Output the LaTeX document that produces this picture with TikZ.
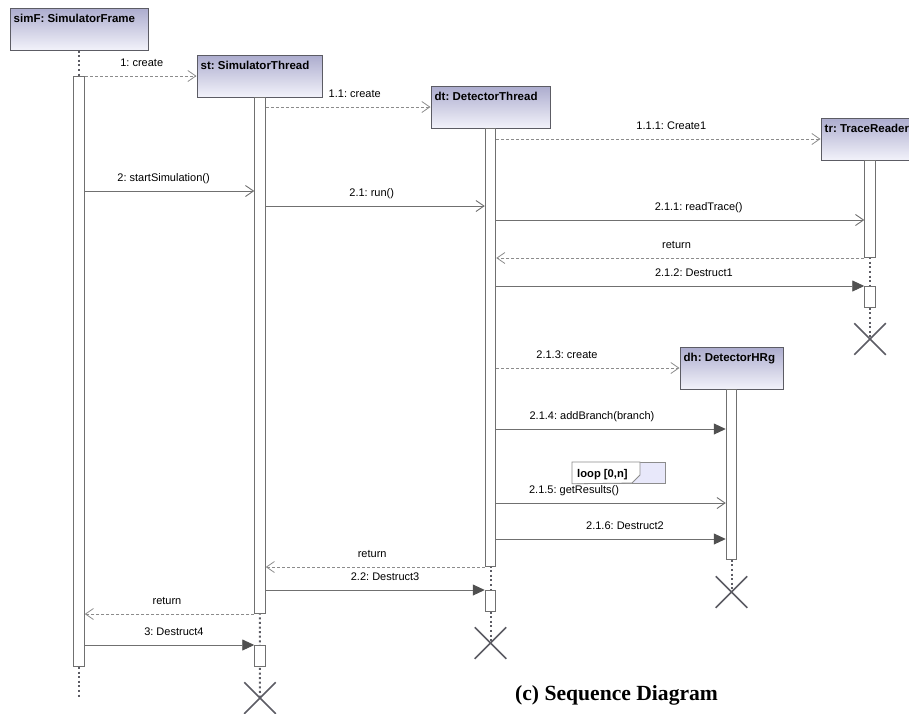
\documentclass[tikz,border=0pt]{standalone}
\usepackage{fontspec}
\setmainfont{Liberation Sans}
\newfontfamily\figcapfont{Liberation Serif}
\usetikzlibrary{arrows.meta,shapes.misc}
\frenchspacing

\definecolor{objtop}{RGB}{172,172,206}
\definecolor{objbot}{RGB}{242,242,250}
\definecolor{edge}{RGB}{92,92,100}
\definecolor{msgline}{RGB}{112,112,112}
\definecolor{retline}{RGB}{140,140,140}
\definecolor{headfill}{RGB}{80,80,80}
\definecolor{loopfill}{RGB}{232,232,250}

\tikzset{
  obj/.style={draw=edge, line width=1pt, top color=objtop, bottom color=objbot,
    minimum height=42pt, inner sep=0pt},
  objname/.style={font=\fontsize{11.5}{13}\selectfont\bfseries, anchor=base west, inner sep=0pt},
  act/.style={draw=msgline, fill=white, line width=1pt, minimum width=10.5pt,
    inner sep=0pt, anchor=north},
  life/.style={draw=edge, line width=2pt, dash pattern=on 2pt off 2.6pt},
  asyncmsg/.style={draw=msgline, line width=0.9pt, -{Straight Barb[length=8pt,width=11pt]}},
  syncmsg/.style={draw=msgline, line width=0.9pt, -{Triangle[length=12pt,width=11pt,color=headfill]}},
  createmsg/.style={draw=retline, line width=0.8pt, dash pattern=on 3pt off 2pt,
    -{Straight Barb[length=8pt,width=11pt]}},
  replymsg/.style={createmsg},
  lbl/.style={font=\fontsize{11}{13}\selectfont, anchor=base, yshift=9.5pt, inner sep=0pt},
  xmark/.style={cross out, draw=edge, line width=1.5pt, minimum size=30pt, inner sep=0pt},
}

\begin{document}
\begin{tikzpicture}[x=1pt,y=-1pt]
\useasboundingbox (0,0) rectangle (909,713);
\clip (0,0) rectangle (909,713);

% objects
\node[obj, minimum width=138pt] (simF) at (79,29) {};
\node[obj, minimum width=125pt] (st) at (259.5,76) {};
\node[obj, minimum width=119pt] (dt) at (490.5,107) {};
\node[obj, minimum width=98pt] (tr) at (870,139) {};
\node[obj, minimum width=103pt] (dh) at (731.5,368) {};

\node[objname] (simFname) at ([xshift=4pt,yshift=-15pt]simF.north west) {simF: SimulatorFrame};
\node[objname] (stname) at ([xshift=4pt,yshift=-15pt]st.north west) {st: SimulatorThread};
\node[objname] (dtname) at ([xshift=4pt,yshift=-15pt]dt.north west) {dt: DetectorThread};
\node[objname] (trname) at ([xshift=4pt,yshift=-15pt]tr.north west) {tr: TraceReader};
\node[objname] (dhname) at ([xshift=4pt,yshift=-15pt]dh.north west) {dh: DetectorHRg};

% destruction marks
\node[xmark] (xS) at (260,698) {};
\node[xmark] (xD) at (490.5,643) {};
\node[xmark] (xT) at (870,339) {};
\node[xmark] (xH) at (731.5,592) {};

% lifelines
\draw[life] (simF.south) -- (79,697);
\draw[life] (st.south) -- (xS.center);
\draw[life] (dt.south) -- (xD.center);
\draw[life] (tr.south) -- (xT.center);
\draw[life] (dh.south) -- (xH.center);

% activations
\node[act, minimum height=590pt] (aF) at (79,76) {};
\node[act, minimum height=516pt] (aS) at (260,97) {};
\node[act, minimum height=21pt] (aS2) at (260,645) {};
\node[act, minimum height=438pt] (aD) at (490.5,128) {};
\node[act, minimum height=21pt] (aD2) at (490.5,590) {};
\node[act, minimum height=97pt] (aT) at (870,160) {};
\node[act, minimum height=21pt] (aT2) at (870,286) {};
\node[act, minimum height=170pt] (aH) at (731.5,389) {};

% loop fragment
\node[draw=retline, fill=loopfill, line width=0.8pt, minimum width=93pt, minimum height=21pt,
  inner sep=0pt, anchor=north west] (loop) at (572,462) {};
\draw[draw=retline, fill=white, line width=0.8pt] (loop.north west) -- ++(68,0) -- ++(0,13)
  -- ++(-8,8) -- (loop.south west) -- cycle;
\node[objname, font=\fontsize{11.2}{13}\selectfont\bfseries] (loopname)
  at ([xshift=5pt,yshift=6.5pt]loop.south west) {loop [0,n]};

% messages
\draw[createmsg] (aF.north east) -- (st.west) node[lbl, pos=.51] (m1) {1: create};
\draw[createmsg] (aS.east |- dt.west) -- (dt.west) node[lbl, pos=.54] (m11) {1.1: create};
\draw[createmsg] (aD.east |- tr.west) -- (tr.west) node[lbl, pos=.54] (m111) {1.1.1: Create1};
\draw[asyncmsg] (aF.east |- 0,191) -- (aS.west |- 0,191) node[lbl, pos=.465] (m2) {2: startSimulation()};
\draw[asyncmsg] (aS.east |- 0,206) -- (aD.west |- 0,206) node[lbl, pos=.484] (m21) {2.1: run()};
\draw[asyncmsg] (aD.east |- 0,220) -- (aT.west |- 0,220) node[lbl, pos=.55] (m211) {2.1.1: readTrace()};
\draw[replymsg] (aT.south west) -- (aD.east |- aT.south) node[lbl, pos=.51] (r1) {return};
\draw[syncmsg] (aD.east |- aT2.north) -- (aT2.north west) node[lbl, pos=.537] (m212) {2.1.2: Destruct1};
\draw[createmsg] (aD.east |- dh.west) -- (dh.west) node[lbl, pos=.386] (m213) {2.1.3: create};
\draw[syncmsg] (aD.east |- 0,429) -- (aH.west |- 0,429) node[lbl, pos=.417] (m214) {2.1.4: addBranch(branch)};
\draw[asyncmsg] (aD.east |- 0,503) -- (aH.west |- 0,503) node[lbl, pos=.339] (m215) {2.1.5: getResults()};
\draw[syncmsg] (aD.east |- 0,539) -- (aH.west |- 0,539) node[lbl, pos=.561] (m216) {2.1.6: Destruct2};
\draw[replymsg] (aD.south west) -- (aS.east |- aD.south) node[lbl, pos=.514] (r2) {return};
\draw[syncmsg] (aS.east |- aD2.north) -- (aD2.north west) node[lbl, pos=.545] (m22) {2.2: Destruct3};
\draw[replymsg] (aS.south west) -- (aF.east |- aS.south) node[lbl, pos=.515] (r3) {return};
\draw[syncmsg] (aF.east |- aS2.north) -- (aS2.north west) node[lbl, pos=.526] (m3) {3: Destruct4};

% caption
\node[anchor=base west, inner sep=0pt, font=\figcapfont\bfseries\fontsize{21.6}{24}\selectfont]
  (caption) at (515,700) {(c) Sequence Diagram};
\end{tikzpicture}
\end{document}
